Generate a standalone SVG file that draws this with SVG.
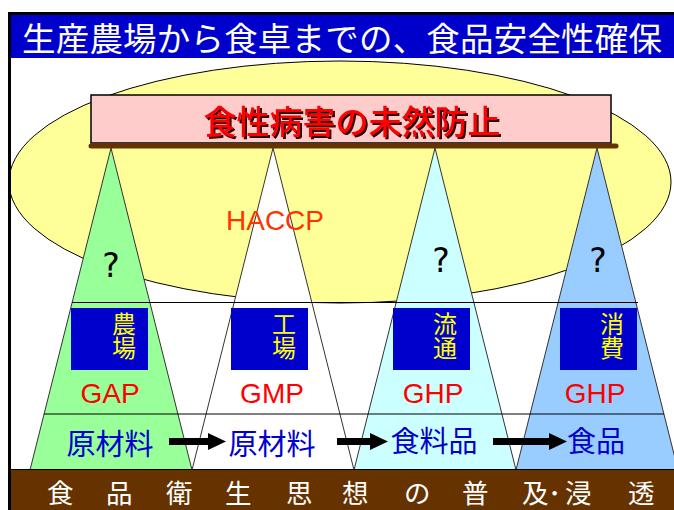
<svg xmlns="http://www.w3.org/2000/svg" width="674" height="510" viewBox="0 0 674 510">
<style>
.cjk{font-family:"Noto Sans CJK JP","Noto Sans CJK SC",sans-serif}
.lat{font-family:"Liberation Sans",Arial,sans-serif}
.tri{stroke:#333;stroke-width:1}
.box{fill:#0000CC}
.yl{fill:#FFFF00;font-size:24px;writing-mode:vertical-rl;text-anchor:start}
.gx{fill:#FF0000;font-size:28px;text-anchor:middle}
.bt{fill:#0000CC;font-size:29px;text-anchor:middle}
.q{font-family:"DejaVu Sans",Verdana,sans-serif;font-size:33px;fill:#000;text-anchor:middle}
.hl{stroke:#000;stroke-width:1.2}
.arr{stroke:#000;stroke-width:7;marker-end:url(#ah)}
</style>
<defs>
<marker id="ah" markerUnits="userSpaceOnUse" viewBox="0 0 18 17" refX="0" refY="8.5" markerWidth="18" markerHeight="17" orient="auto">
<path d="M0,0 L18,8.5 L0,17 Z" fill="#000"/>
</marker>
<filter id="sh" x="-5%" y="-20%" width="110%" height="140%">
<feDropShadow dx="2" dy="2" stdDeviation="0" flood-color="#330000" flood-opacity="1"/>
</filter>
</defs>
<rect width="674" height="510" fill="#fff"/>

<g id="title">
<rect x="9" y="13" width="666" height="45" fill="#0000CC"/>
<line x1="8" y1="13.5" x2="674" y2="13.5" stroke="#000" stroke-width="3"/>
<text class="cjk" x="22" y="51" font-size="33.5" fill="#fff" textLength="640" lengthAdjust="spacing">生産農場から食卓までの、食品安全性確保</text>
</g>

<g id="haccp-area">
<ellipse cx="340" cy="182" rx="331" ry="121" fill="#FFFF99" stroke="#000" stroke-width="1"/>
</g>

<g id="farm">
<polygon class="tri" points="111,148 30,470 192,470" fill="#99FF99"/>
</g>
<g id="factory">
<polygon class="tri" points="273,148 192,470 354,470" fill="#FFFFFF"/>
</g>
<g id="distribution">
<polygon class="tri" points="435,148 354,470 516,470" fill="#CCFFFF"/>
</g>
<g id="consumption">
<polygon class="tri" points="597,148 516,470 678,470" fill="#99CCFF"/>
</g>

<g id="haccp-label">
<text class="lat" x="275" y="230" font-size="28" fill="#FF3300" text-anchor="middle">HACCP</text>
</g>

<g id="questions">
<text class="q" x="111" y="277">?</text>
<text class="q" x="441" y="272">?</text>
<text class="q" x="598" y="272">?</text>
</g>

<g id="bands">
<line class="hl" x1="72" y1="302.5" x2="638" y2="302.5"/>
<line class="hl" x1="44" y1="414" x2="664" y2="414"/>
</g>

<g id="farm-labels">
<rect class="box" x="71" y="308" width="77" height="62"/>
<text class="cjk yl" x="124" y="312">農場</text>
<text class="lat gx" x="110" y="403">GAP</text>
<text class="cjk bt" x="110" y="455">原材料</text>
</g>
<g id="factory-labels">
<rect class="box" x="231" y="308" width="77" height="62"/>
<text class="cjk yl" x="284" y="312">工場</text>
<text class="lat gx" x="272" y="403">GMP</text>
<text class="cjk bt" x="272" y="455">原材料</text>
</g>
<g id="distribution-labels">
<rect class="box" x="393" y="308" width="77" height="62"/>
<text class="cjk yl" x="445" y="312">流通</text>
<text class="lat gx" x="433" y="403">GHP</text>
<text class="cjk bt" x="434" y="452">食料品</text>
</g>
<g id="consumption-labels">
<rect class="box" x="560" y="308" width="77" height="62"/>
<text class="cjk yl" x="612" y="312">消費</text>
<text class="lat gx" x="595" y="403">GHP</text>
<text class="cjk bt" x="596" y="452">食品</text>
</g>

<g id="goal">
<rect x="91" y="95" width="520" height="48" fill="#FFCCCC" stroke="#000" stroke-width="1.5"/>
<line x1="91" y1="146" x2="616" y2="146" stroke="#663300" stroke-width="5" stroke-linecap="round"/>
<text class="cjk" x="352" y="134" font-size="33" font-weight="500" fill="#FF0000" text-anchor="middle" filter="url(#sh)">食性病害の未然防止</text>
</g>

<g id="connectors">
<line class="arr" x1="169" y1="441.5" x2="208" y2="441.5"/>
<line class="arr" x1="337" y1="441.5" x2="370" y2="441.5"/>
<line class="arr" x1="493" y1="441.5" x2="549" y2="441.5"/>
</g>

<g id="footer">
<rect x="9" y="469.5" width="665" height="41" fill="#663300"/>
<line x1="9" y1="469.5" x2="674" y2="469.5" stroke="#000" stroke-width="1"/>
<text class="cjk" y="503" font-size="26.5" fill="#fff" xml:space="preserve" x="47 75 106 134 166 194 225 253 286 314 342 370 404 432 462 490 522 548 565 593 628">食 品 衛 生 思 想 の 普 及･浸 透</text>
</g>

<line id="left-border" x1="9.5" y1="12" x2="9.5" y2="510" stroke="#000" stroke-width="3"/>
</svg>
